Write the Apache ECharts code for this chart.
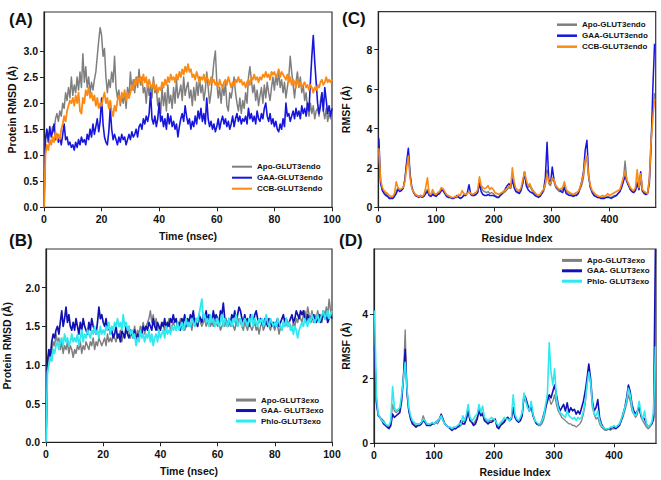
<!DOCTYPE html>
<html><head><meta charset="utf-8">
<script src="https://cdn.jsdelivr.net/npm/echarts@6/dist/echarts.min.js"></script>
<style>html,body{margin:0;padding:0;background:#fff}#c{width:661px;height:480px}</style>
</head><body><div id="c"></div>
<script>
// ---------- DATA ----------
// RMSD time series: one value every 0.5 ns, from 0 to 100 ns
const timeStep = 0.5;
const rmsdEndoApo = [
0,1.3,1.45,1.35,1.5,1.4,1.55,1.45,1.7,1.8,
1.65,1.85,1.75,2.0,1.9,2.2,2.05,2.3,2.1,2.5,
2.15,2.35,2.2,2.5,2.25,2.6,2.3,2.95,2.4,2.7,
2.3,2.5,2.2,2.4,2.25,2.45,2.6,2.9,3.2,3.45,
3.3,2.9,3.05,2.5,2.2,2.45,2.3,2.6,2.4,2.9,
2.3,2.1,2.25,1.95,2.15,2.0,2.2,1.9,2.3,2.1,
2.6,2.25,2.45,2.2,2.5,2.3,2.65,2.35,2.5,2.2,
2.3,2.0,2.4,2.15,2.35,2.1,2.5,2.2,2.3,1.95,
2.1,1.8,2.3,1.95,2.2,1.85,2.35,2.0,2.15,1.9,
2.3,2.0,2.45,2.1,2.2,2.35,2.05,2.5,2.15,2.3,
2.4,2.1,2.25,1.95,2.3,2.05,2.4,2.15,2.5,2.2,
2.35,2.05,2.25,2.6,2.3,2.0,2.2,2.5,2.8,3.0,
2.4,2.1,2.3,2.0,2.35,2.15,2.4,1.95,1.85,2.2,
2.1,2.3,2.5,2.2,2.0,1.85,2.1,1.8,2.05,1.9,
2.2,2.0,2.5,2.7,2.45,2.2,2.35,2.05,2.25,1.95,
2.15,2.3,2.0,2.35,2.1,2.4,2.2,2.05,2.3,2.5,
2.25,2.55,2.35,2.6,2.3,2.45,2.2,2.4,2.1,2.3,
2.5,2.9,2.6,2.35,2.1,2.4,2.6,2.3,2.5,2.2,
2.35,2.05,2.2,1.9,1.75,2.0,1.8,1.95,1.7,1.85,
1.9,1.75,2.05,2.2,1.85,1.7,1.9,1.65,1.8,1.7,
1.75];
const rmsdEndoGAA = [
0,1.3,1.5,1.25,1.55,1.35,1.45,1.6,1.3,1.4,
1.25,1.35,1.2,1.4,1.6,1.3,1.35,1.2,1.25,1.15,
1.2,1.1,1.25,1.15,1.3,1.2,1.35,1.25,1.3,1.2,
1.4,1.3,1.5,1.35,1.6,1.4,1.55,1.7,1.45,1.65,
2.1,1.6,1.35,1.25,1.2,1.45,1.9,1.5,1.3,1.4,
1.3,1.2,1.35,1.25,1.4,1.3,1.35,1.2,1.3,1.4,
1.3,1.45,1.35,1.4,1.5,1.35,1.55,1.6,1.5,1.7,
1.6,1.75,1.65,1.8,2.2,1.7,1.6,1.75,1.55,1.7,
2.0,1.65,1.75,1.55,1.7,1.5,1.8,1.6,1.75,1.55,
1.65,1.5,1.6,1.35,1.55,1.7,1.8,1.65,1.95,1.75,
1.6,1.7,1.5,1.65,1.55,1.75,1.6,1.85,1.7,1.9,
1.65,1.8,1.6,2.1,1.7,1.55,1.65,1.5,1.6,1.45,
1.55,1.7,1.5,1.65,1.75,1.6,1.7,1.55,1.65,1.5,
1.6,1.75,1.55,1.7,1.8,1.65,1.75,1.6,1.7,1.65,
1.75,1.6,1.9,1.7,1.8,1.65,1.75,1.6,1.85,1.7,
1.65,1.8,1.7,1.9,2.0,1.75,1.65,1.8,1.6,1.7,
1.55,1.65,1.5,1.45,1.6,1.5,1.7,1.55,2.0,1.75,
1.8,1.65,1.75,1.85,1.7,1.9,1.75,1.85,1.7,1.95,
1.8,1.9,1.75,2.0,1.85,2.4,2.9,3.3,2.8,2.4,
2.0,1.8,1.95,2.2,1.85,2.3,2.05,1.8,1.95,1.75,
1.9];
const rmsdEndoCCB = [
0,1.0,1.2,1.1,1.3,1.2,1.35,1.25,1.45,1.3,
1.4,1.3,1.5,1.6,1.75,1.65,1.85,1.95,2.05,2.0,
2.1,1.95,2.15,2.0,2.2,1.85,1.8,2.1,2.0,2.25,
2.15,2.3,2.1,2.2,2.05,2.15,1.95,2.1,1.9,2.0,
1.95,2.1,2.2,2.0,2.1,1.9,2.05,1.85,1.75,1.95,
1.85,2.05,2.15,2.0,2.2,2.1,2.25,2.05,2.2,2.1,
2.2,2.35,2.25,2.45,2.35,2.5,2.4,2.5,2.35,2.55,
2.4,2.5,2.3,2.45,2.35,2.3,2.4,2.25,2.35,2.2,
2.3,2.25,2.4,2.3,2.45,2.35,2.5,2.4,2.55,2.45,
2.5,2.4,2.55,2.45,2.6,2.5,2.65,2.55,2.7,2.6,
2.75,2.6,2.65,2.5,2.55,2.45,2.6,2.5,2.4,2.5,
2.45,2.55,2.4,2.5,2.45,2.35,2.5,2.4,2.45,2.35,
2.4,2.3,2.45,2.35,2.3,2.4,2.45,2.35,2.5,2.4,
2.3,2.4,2.35,2.45,2.4,2.5,2.4,2.45,2.35,2.4,
2.3,2.4,2.45,2.35,2.5,2.45,2.55,2.45,2.5,2.4,
2.5,2.45,2.55,2.5,2.6,2.5,2.55,2.45,2.6,2.55,
2.6,2.5,2.55,2.65,2.5,2.6,2.55,2.5,2.45,2.55,
2.4,2.5,2.35,2.45,2.4,2.3,2.45,2.35,2.4,2.3,
2.35,2.4,2.3,2.35,2.25,2.35,2.3,2.2,2.3,2.25,
2.35,2.3,2.4,2.45,2.35,2.4,2.5,2.4,2.45,2.4,
2.45];
const rmsdExoApo = [
0,1.0,1.1,1.2,1.15,1.3,1.25,1.4,1.3,1.35,
1.2,1.3,1.15,1.25,1.2,1.3,1.15,1.25,1.2,1.1,
1.2,1.15,1.25,1.2,1.3,1.15,1.25,1.2,1.3,1.25,
1.2,1.3,1.25,1.35,1.2,1.3,1.25,1.35,1.3,1.25,
1.3,1.35,1.25,1.4,1.3,1.35,1.3,1.4,1.35,1.3,
1.4,1.35,1.45,1.3,1.4,1.35,1.45,1.4,1.5,1.35,
1.45,1.4,1.5,1.35,1.45,1.4,1.5,1.45,1.55,1.4,
1.5,1.55,1.6,1.7,1.55,1.65,1.5,1.6,1.45,1.5,
1.45,1.55,1.5,1.45,1.55,1.5,1.6,1.45,1.5,1.55,
1.5,1.45,1.55,1.5,1.6,1.5,1.55,1.45,1.5,1.55,
1.5,1.55,1.45,1.6,1.5,1.55,1.5,1.6,1.55,1.5,
1.55,1.6,1.5,1.55,1.6,1.5,1.55,1.5,1.6,1.55,
1.5,1.55,1.45,1.5,1.55,1.5,1.6,1.5,1.55,1.5,
1.55,1.5,1.45,1.55,1.5,1.6,1.55,1.5,1.45,1.55,
1.5,1.45,1.55,1.5,1.45,1.5,1.55,1.45,1.5,1.4,
1.5,1.55,1.45,1.5,1.55,1.6,1.5,1.45,1.55,1.5,
1.45,1.55,1.5,1.4,1.5,1.45,1.55,1.5,1.6,1.5,
1.55,1.5,1.45,1.55,1.5,1.6,1.55,1.65,1.6,1.55,
1.65,1.7,1.6,1.75,1.65,1.6,1.7,1.55,1.65,1.6,
1.7,1.6,1.65,1.55,1.7,1.6,1.75,1.65,1.85,1.7,
1.65];
const rmsdExoGAA = [
0,1.05,1.2,1.1,1.3,1.4,1.35,1.45,1.5,1.4,
1.55,1.7,1.5,1.6,1.75,1.55,1.65,1.5,1.45,1.55,
1.45,1.6,1.5,1.4,1.55,1.45,1.6,1.5,1.45,1.4,
1.55,1.45,1.6,1.5,1.45,1.4,1.55,1.75,1.6,1.65,
1.55,1.5,1.6,1.45,1.5,1.4,1.45,1.35,1.4,1.5,
1.35,1.4,1.3,1.45,1.4,1.35,1.5,1.4,1.35,1.45,
1.4,1.35,1.45,1.3,1.4,1.35,1.45,1.4,1.5,1.45,
1.5,1.45,1.55,1.5,1.45,1.6,1.5,1.45,1.55,1.5,
1.45,1.55,1.5,1.6,1.45,1.55,1.5,1.6,1.55,1.65,
1.55,1.6,1.5,1.55,1.45,1.6,1.55,1.65,1.5,1.6,
1.55,1.65,1.6,1.7,1.55,1.6,1.5,1.65,1.6,1.55,
1.65,1.6,1.7,1.55,1.65,1.6,1.55,1.7,1.6,1.65,
1.6,1.55,1.7,1.65,1.8,1.6,1.55,1.5,1.6,1.55,
1.65,1.6,1.7,1.55,1.65,1.75,1.7,1.6,1.55,1.65,
1.55,1.6,1.5,1.65,1.6,1.55,1.65,1.7,1.6,1.55,
1.6,1.55,1.5,1.6,1.55,1.5,1.6,1.55,1.5,1.55,
1.5,1.55,1.6,1.5,1.55,1.6,1.65,1.55,1.6,1.5,
1.55,1.6,1.65,1.55,1.6,1.7,1.65,1.6,1.7,1.65,
1.7,1.6,1.55,1.65,1.6,1.55,1.6,1.65,1.6,1.55,
1.6,1.65,1.55,1.6,1.7,1.6,1.65,1.55,1.6,1.65,
1.6];
const rmsdExoPhlo = [
0,0.9,1.0,1.1,1.05,1.2,1.15,1.25,1.3,1.2,
1.3,1.35,1.25,1.4,1.3,1.35,1.25,1.3,1.4,1.3,
1.35,1.3,1.4,1.25,1.35,1.45,1.3,1.4,1.35,1.45,
1.4,1.35,1.45,1.4,1.5,1.4,1.45,1.35,1.5,1.4,
1.45,1.4,1.5,1.45,1.55,1.4,1.5,1.45,1.55,1.5,
1.6,1.5,1.55,1.45,1.65,1.5,1.55,1.45,1.5,1.4,
1.45,1.35,1.4,1.25,1.35,1.3,1.45,1.35,1.4,1.3,
1.4,1.35,1.45,1.3,1.4,1.25,1.35,1.4,1.3,1.45,
1.35,1.4,1.45,1.35,1.5,1.4,1.45,1.4,1.5,1.45,
1.5,1.45,1.55,1.45,1.5,1.55,1.45,1.5,1.6,1.5,
1.55,1.5,1.6,1.55,1.5,1.6,1.55,1.65,1.75,1.85,
1.6,1.65,1.55,1.6,1.5,1.65,1.55,1.6,1.5,1.55,
1.6,1.5,1.55,1.65,1.5,1.6,1.55,1.5,1.6,1.55,
1.5,1.6,1.55,1.65,1.5,1.55,1.6,1.5,1.55,1.6,
1.55,1.5,1.6,1.55,1.65,1.5,1.6,1.55,1.5,1.6,
1.55,1.6,1.5,1.55,1.65,1.55,1.5,1.6,1.55,1.5,
1.55,1.5,1.6,1.55,1.5,1.45,1.55,1.5,1.6,1.5,
1.55,1.45,1.5,1.4,1.5,1.45,1.35,1.45,1.5,1.55,
1.5,1.6,1.55,1.5,1.6,1.55,1.65,1.6,1.55,1.6,
1.65,1.55,1.6,1.65,1.7,1.6,1.65,1.7,1.6,1.65,
1.7];

// RMSF per residue: residues 1, 4, 7, ... (every 3rd residue)
const residueStart = 1, residueStep = 3;
const rmsfEndoApo = [
2.8,1.3,0.9,0.75,0.7,0.6,0.5,0.5,0.45,0.6,
0.8,1.0,0.85,0.9,1.0,1.4,2.2,2.8,1.6,1.0,
0.8,0.65,0.6,0.55,0.6,0.55,0.6,0.8,0.9,0.65,
0.6,0.75,0.65,0.6,0.7,0.75,0.95,0.9,0.75,0.6,
0.55,0.5,0.5,0.45,0.5,0.5,0.55,0.45,0.5,0.65,
0.6,0.7,0.8,0.65,0.6,0.65,0.7,0.8,1.3,1.0,
0.85,0.8,0.75,0.8,0.7,0.75,0.7,0.6,0.55,0.5,
0.6,0.65,0.75,0.8,0.9,1.0,0.95,1.6,1.1,0.85,
0.8,0.75,0.9,1.3,1.7,1.2,1.0,1.1,0.9,0.8,
0.7,0.6,0.55,0.6,0.7,0.8,1.1,1.9,1.2,1.1,
1.5,1.3,1.0,0.9,0.8,0.85,0.9,1.1,0.8,0.75,
0.7,0.65,0.6,0.6,0.65,0.7,0.9,1.1,1.5,2.3,
2.5,1.5,1.0,0.8,0.7,0.6,0.5,0.5,0.45,0.5,
0.5,0.5,0.55,0.5,0.5,0.55,0.6,0.6,0.7,0.8,
1.1,1.4,2.35,1.4,1.1,0.9,0.8,0.75,0.9,1.3,
0.9,1.4,0.8,0.75,0.7,0.75,1.5,3.5,4.8,5.8];
const rmsfEndoGAA = [
3.5,1.2,0.85,0.7,0.6,0.55,0.45,0.45,0.45,0.55,
0.7,0.9,0.8,0.85,0.95,1.4,2.3,3.0,1.7,1.0,
0.75,0.6,0.55,0.5,0.55,0.5,0.55,0.7,0.8,0.6,
0.55,0.65,0.6,0.55,0.65,0.7,0.85,0.85,0.7,0.55,
0.5,0.5,0.45,0.45,0.5,0.6,0.5,0.45,0.5,0.6,
0.6,0.75,1.15,0.65,0.6,0.6,0.65,0.75,1.2,0.8,
0.65,0.6,0.6,0.65,0.6,0.6,0.6,0.55,0.5,0.5,
0.6,0.7,0.8,0.95,1.1,1.2,1.0,1.4,1.0,0.8,
0.75,0.7,0.85,1.2,1.8,1.1,0.9,0.8,0.75,0.7,
0.6,0.55,0.5,0.55,0.7,0.9,1.5,3.3,1.4,1.2,
2.05,1.4,1.1,0.95,0.9,0.8,0.75,1.0,0.7,0.65,
0.6,0.6,0.55,0.6,0.6,0.7,1.0,1.3,1.8,2.9,
3.4,1.6,1.0,0.75,0.6,0.55,0.5,0.5,0.45,0.45,
0.45,0.5,0.5,0.5,0.45,0.5,0.55,0.6,0.7,0.8,
1.0,1.3,1.6,1.3,1.1,0.9,0.8,0.75,0.85,1.2,
0.9,1.8,0.85,0.7,0.65,0.7,1.2,3.0,6.0,8.3];
const rmsfEndoCCB = [
3.0,1.4,1.0,0.85,0.75,0.7,0.6,0.55,0.55,0.7,
1.3,1.0,0.9,0.95,1.0,1.3,2.0,2.6,1.5,0.95,
0.8,0.65,0.6,0.55,0.6,0.55,0.65,1.0,1.5,0.7,
0.65,0.9,0.7,0.65,0.75,0.8,1.0,0.95,0.8,0.65,
0.6,0.55,0.5,0.5,0.55,0.55,0.65,0.6,0.85,0.7,
0.65,0.7,0.8,0.7,0.65,0.7,0.75,0.9,1.55,1.1,
1.0,0.95,1.0,1.1,0.9,1.0,0.9,0.75,0.7,0.65,
0.7,0.75,0.8,0.9,0.95,1.1,1.0,2.0,1.3,0.95,
0.9,0.85,1.0,1.4,1.8,1.4,1.1,1.2,1.0,0.85,
0.75,0.65,0.6,0.65,0.8,0.9,1.2,1.7,1.3,1.2,
1.5,1.4,1.1,1.0,0.9,0.95,1.0,1.3,0.9,0.8,
0.75,0.7,0.65,0.7,0.75,0.8,1.0,1.3,1.7,2.4,
2.6,1.6,1.1,0.85,0.75,0.65,0.6,0.55,0.55,0.6,
0.55,0.6,0.7,0.6,0.65,0.7,0.75,0.8,0.85,0.9,
1.2,1.5,1.8,1.4,1.2,1.0,0.9,0.85,1.0,1.9,
1.0,1.7,0.9,0.8,0.75,0.7,1.4,3.3,4.5,5.5];
const rmsfExoApo = [
3.0,1.2,0.9,0.8,0.75,0.7,0.6,0.55,0.5,0.6,
1.2,1.0,0.95,1.0,1.05,1.4,2.1,3.5,1.5,1.0,
0.8,0.65,0.6,0.55,0.55,0.6,0.65,0.85,0.7,0.6,
0.6,0.55,0.6,0.6,0.65,0.6,0.7,0.85,0.7,0.6,
0.55,0.5,0.5,0.45,0.5,0.45,0.5,0.5,0.55,0.7,
0.65,0.8,1.0,0.7,0.65,0.6,0.7,0.8,1.1,0.9,
0.95,0.75,0.7,0.65,0.7,0.7,0.75,0.7,0.55,0.5,
0.6,0.65,0.7,0.75,0.8,0.75,0.8,1.0,0.8,0.7,
0.7,0.75,0.9,1.4,1.3,1.1,1.0,1.2,0.9,0.7,
0.6,0.55,0.55,0.6,0.75,1.0,1.5,1.4,1.2,1.3,
1.5,1.2,1.0,0.9,0.8,0.75,0.7,0.65,0.6,0.6,
0.55,0.55,0.5,0.55,0.6,0.7,0.9,1.2,1.8,2.3,
1.8,1.1,0.9,0.75,0.8,0.6,0.5,0.45,0.4,0.4,
0.45,0.4,0.45,0.45,0.5,0.5,0.55,0.7,0.8,1.0,
1.2,1.5,1.3,1.0,0.9,0.8,0.9,1.2,0.8,0.7,
0.6,0.5,0.45,0.5,0.6,0.7,2.0];
const rmsfExoGAA = [
3.0,1.3,0.85,0.8,0.7,0.6,0.55,0.5,0.45,0.55,
0.9,0.8,0.85,0.9,0.95,1.3,2.0,2.9,1.6,1.0,
0.75,0.6,0.55,0.5,0.55,0.55,0.6,0.7,0.65,0.55,
0.55,0.55,0.6,0.6,0.65,0.7,0.75,0.9,0.75,0.6,
0.55,0.5,0.45,0.4,0.45,0.45,0.5,0.55,0.7,0.6,
0.6,0.75,1.0,0.7,0.65,0.55,0.6,0.75,1.0,0.85,
0.9,0.7,0.65,0.6,0.65,0.65,0.7,0.75,0.5,0.45,
0.55,0.6,0.65,0.75,0.8,0.7,0.75,1.1,0.8,0.7,
0.65,0.7,0.85,1.5,1.4,1.2,1.0,1.15,0.85,0.7,
0.6,0.6,0.6,0.7,0.9,1.1,1.3,1.5,1.4,1.6,
1.8,1.5,1.2,1.0,1.1,1.2,1.0,1.25,0.95,1.1,
1.0,1.05,0.9,1.0,0.9,1.1,1.3,1.6,2.0,2.45,
2.0,1.3,1.0,1.1,1.35,0.8,0.6,0.5,0.45,0.45,
0.45,0.45,0.5,0.5,0.45,0.5,0.55,0.7,0.9,1.1,
1.4,1.8,1.6,1.2,1.0,0.9,1.0,1.1,0.85,0.8,
0.75,0.6,0.5,0.55,0.6,0.8,6.0];
const rmsfExoPhlo = [
4.1,1.5,0.9,0.8,0.7,0.65,0.6,0.55,0.55,0.7,
1.75,1.1,1.0,1.05,1.1,1.5,2.0,2.5,1.7,1.1,
0.85,0.7,0.65,0.6,0.6,0.6,0.65,0.75,0.7,0.6,
0.6,0.6,0.65,0.6,0.65,0.7,0.75,0.85,0.7,0.6,
0.55,0.5,0.5,0.45,0.5,0.5,0.55,0.6,0.6,0.85,
0.7,0.9,1.2,0.8,0.7,0.75,0.85,0.9,1.2,0.95,
1.15,0.8,0.75,0.7,0.75,0.8,0.75,0.7,0.6,0.55,
0.65,0.7,0.8,0.75,0.75,0.7,0.8,1.5,0.9,0.75,
0.7,0.8,0.95,1.55,1.3,1.1,1.0,1.3,0.9,0.7,
0.65,0.6,0.6,0.7,0.85,1.2,1.5,3.1,2.2,1.8,
2.3,1.4,1.1,0.95,0.9,0.85,0.8,1.0,0.85,0.8,
0.75,0.8,0.7,0.8,0.75,0.8,1.0,1.3,1.8,2.2,
1.9,1.2,0.9,0.85,1.0,0.7,0.55,0.5,0.45,0.45,
0.45,0.5,0.5,0.55,0.5,0.55,0.6,0.75,0.9,1.1,
1.3,1.7,1.5,1.1,0.9,0.85,1.0,1.3,0.9,0.75,
1.0,0.6,0.5,0.55,0.65,1.0,3.0];

// tick labels
const rmsdTicksA = [0,0.5,1.0,1.5,2.0,2.5,3.0];
const rmsdTicksB = [0,0.5,1.0,1.5,2.0];
const timeTicks = [0,20,40,60,80,100];
const rmsfTicksC = [0,2,4,6,8];
const rmsfTicksD = [0,2,4];
const residueTicks = [0,100,200,300,400];

// names
const namesA = ['Apo-GLUT3endo','GAA-GLUT3endo','CCB-GLUT3endo'];
const namesB = ['Apo-GLUT3exo','GAA- GLUT3exo','Phlo-GLUT3exo'];
const namesC = ['Apo-GLUT3endo','GAA-GLUT3endo','CCB-GLUT3endo'];
const namesD = ['Apo-GLUT3exo','GAA- GLUT3exo','Phlo- GLUT3exo'];

// ---------- BUILD ----------
const FONT = '"Liberation Sans", Arial, sans-serif';
const GRAY = '#7f7f7f', BLUE = '#1616dc', BLUE2 = '#1212b4', ORANGE = '#fb8a14', CYAN = '#30e8f0';
function pairs(vals, x0, dx){ return vals.map((v,i)=>[x0 + i*dx, v]); }

function xAxis(idx, max, ticks, name, gap){
  return {type:'value', gridIndex:idx, min:0, max:max, name:name, nameLocation:'middle', nameGap:gap,
    nameTextStyle:{fontFamily:FONT, fontWeight:'bold', fontSize:10.5, color:'#111'},
    axisLine:{show:true, onZero:false, lineStyle:{color:'#222', width:1.2}},
    axisTick:{show:true, length:4, customValues:ticks, lineStyle:{color:'#222'}},
    axisLabel:{customValues:ticks, margin:6, fontFamily:FONT, fontWeight:'bold', fontSize:10.5, color:'#111'},
    splitLine:{show:false}};
}
function yAxis(idx, max, ticks, name, gap, dec){
  return {type:'value', gridIndex:idx, min:0, max:max, name:name, nameLocation:'middle', nameGap:gap,
    nameTextStyle:{fontFamily:FONT, fontWeight:'bold', fontSize:10.5, color:'#111'},
    axisLine:{show:true, onZero:false, lineStyle:{color:'#222', width:1.2}},
    axisTick:{show:true, length:4, customValues:ticks, lineStyle:{color:'#222'}},
    axisLabel:{customValues:ticks, margin:6, fontFamily:FONT, fontWeight:'bold', fontSize:10.5, color:'#111',
      formatter:v=>dec? v.toFixed(1) : String(v)},
    splitLine:{show:false}};
}
function line(name, data, idx, color, w){
  return {type:'line', name:name, xAxisIndex:idx, yAxisIndex:idx, data:data, showSymbol:false,
    symbol:'none', lineStyle:{color:color, width:w||1.5, join:'round'}, itemStyle:{color:color}, silent:true, z:2};
}
function legend(names, left, top, lh, h){
  return {data:names, orient:'vertical', left:left, top:top, padding:0, itemGap:0,
    icon:'rect', itemWidth:20, itemHeight:h,
    textStyle:{fontFamily:FONT, fontWeight:'bold', fontSize:8, color:'#111', lineHeight:lh}};
}

const grids = [
  {left:44, top:12, right:329, bottom:272.7},
  {left:44, top:249, right:329, bottom:37.7},
  {left:378.3, top:11.7, right:5.3, bottom:272.7},
  {left:374, top:249, right:5, bottom:36.7}
].map(g=>Object.assign({show:true, borderColor:'#333', borderWidth:1.2, backgroundColor:'transparent'}, g));

const option = {
  animation:false,
  backgroundColor:'#fff',
  grid:grids,
  xAxis:[
    xAxis(0,100,timeTicks,'Time (nsec)',23),
    xAxis(1,100,timeTicks,'Time (nsec)',23),
    xAxis(2,480,residueTicks,'Residue Index',25),
    xAxis(3,470,residueTicks,'Residue Index',23)
  ],
  yAxis:[
    yAxis(0,3.75,rmsdTicksA,'Protein RMSD (Å)',27,true),
    yAxis(1,2.5,rmsdTicksB,'Protein RMSD (Å)',34,true),
    yAxis(2,9.93,rmsfTicksC,'RMSF (Å)',27,false),
    yAxis(3,6,rmsfTicksD,'RMSF (Å)',23,false)
  ],
  legend:[
    legend(namesA,232,161.2,11,2),
    legend(namesB,236,394.8,10.5,3),
    legend(namesC,557,19.2,11,2.5),
    legend(namesD,562,255.2,10.4,3)
  ],
  series:[
    line(namesA[0], pairs(rmsdEndoApo,0,timeStep), 0, GRAY, 1.5),
    line(namesA[1], pairs(rmsdEndoGAA,0,timeStep), 0, BLUE, 1.6),
    line(namesA[2], pairs(rmsdEndoCCB,0,timeStep), 0, ORANGE, 1.8),
    line(namesB[0], pairs(rmsdExoApo,0,timeStep), 1, GRAY, 1.5),
    line(namesB[1], pairs(rmsdExoGAA,0,timeStep), 1, BLUE2, 1.7),
    line(namesB[2], pairs(rmsdExoPhlo,0,timeStep), 1, CYAN, 1.8),
    line(namesC[0], pairs(rmsfEndoApo,residueStart,residueStep), 2, GRAY, 1.4),
    line(namesC[1], pairs(rmsfEndoGAA,residueStart,residueStep), 2, BLUE, 1.5),
    line(namesC[2], pairs(rmsfEndoCCB,residueStart,residueStep), 2, ORANGE, 1.6),
    line(namesD[0], pairs(rmsfExoApo,residueStart,residueStep), 3, GRAY, 1.3),
    line(namesD[1], pairs(rmsfExoGAA,residueStart,residueStep), 3, BLUE2, 1.6),
    line(namesD[2], pairs(rmsfExoPhlo,residueStart,residueStep), 3, CYAN, 1.6)
  ],
  graphic:[
    {type:'text', left:9, top:11, style:{text:'(A)', fontFamily:FONT, fontWeight:'bold', fontSize:17, fill:'#111'}},
    {type:'text', left:9, top:232, style:{text:'(B)', fontFamily:FONT, fontWeight:'bold', fontSize:17, fill:'#111'}},
    {type:'text', left:342, top:10, style:{text:'(C)', fontFamily:FONT, fontWeight:'bold', fontSize:17, fill:'#111'}},
    {type:'text', left:339, top:232, style:{text:'(D)', fontFamily:FONT, fontWeight:'bold', fontSize:17, fill:'#111'}}
  ]
};
const chart = echarts.init(document.getElementById('c'), null, {renderer:'svg'});
chart.setOption(option);
</script>
</body></html>
